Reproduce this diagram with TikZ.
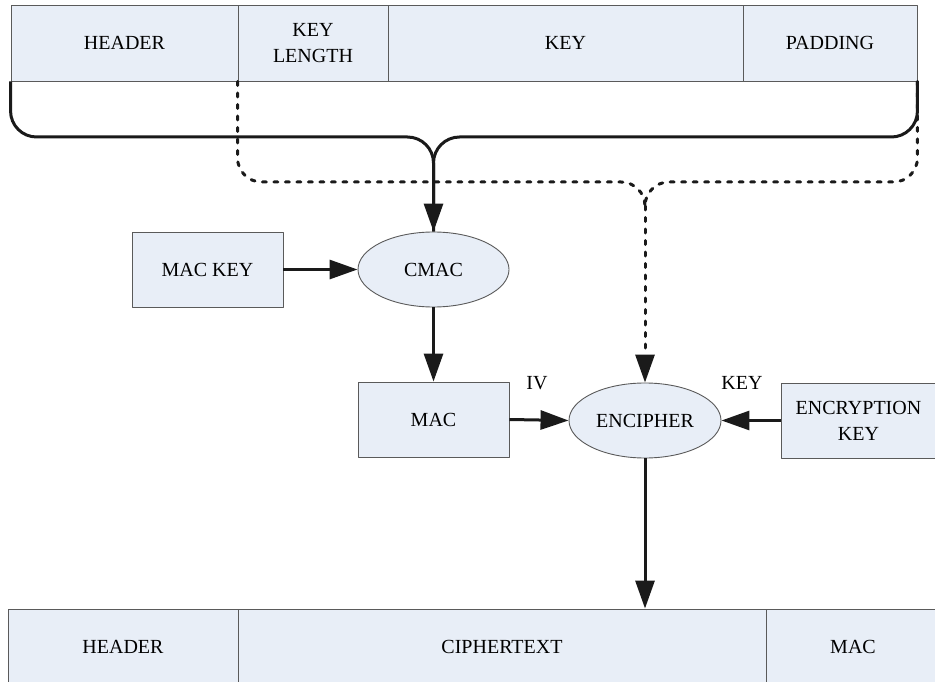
\documentclass[tikz,border=0pt]{standalone}
\usepackage{fontspec}
\setmainfont{Liberation Serif}
\usetikzlibrary{arrows.meta,shapes.geometric}
\definecolor{cellblue}{HTML}{E8EEF7}
\definecolor{cellline}{HTML}{5A5A5A}
\definecolor{inkblack}{HTML}{1A1A1A}
\begin{document}
\begin{tikzpicture}
      [x=1pt,y=-1pt,line join=round,
       font=\fontsize{20}{26}\selectfont,
       cell/.style={draw=cellline,fill=cellblue,line width=0.9pt,inner sep=0pt,align=center,minimum height=75pt},
       op/.style={ellipse,draw=cellline,fill=cellblue,line width=0.9pt,inner sep=0pt,minimum width=151pt,minimum height=75pt},
       flow/.style={draw=inkblack,line width=3pt,-{Triangle[length=28pt,width=19pt]}},
       bracket/.style={draw=inkblack,line width=3pt,rounded corners=26pt},
       dotbracket/.style={draw=inkblack,line width=3pt,line cap=round,dash pattern=on 4pt off 7.5pt,rounded corners=24pt}]

\useasboundingbox (0,0) rectangle (935,682);

%top record
  \node[cell,minimum width=227pt,minimum height=76pt] (hdr)  at (124.5,43) {HEADER};
  \node[cell,minimum width=150pt,minimum height=76pt] (klen) at (313,43) {KEY\\LENGTH};
  \node[cell,minimum width=355pt,minimum height=76pt] (key)  at (565.5,43) {KEY};
  \node[cell,minimum width=174pt,minimum height=76pt] (pad)  at (830,43) {PADDING};

%middle boxes and operations
  \node[cell,minimum width=151pt] (mackey) at (207.5,269.5) {MAC KEY};
  \node[op] (cmacop) at (433.5,269.5) {CMAC};
  \node[cell,minimum width=151pt] (mac) at (433.5,419.5) {MAC};
  \node[op,minimum width=152pt] (enc) at (645,420.5) {ENCIPHER};
  \node[cell,minimum width=155pt] (enckey) at (858.5,420.5) {ENCRYPTION\\KEY};
  \node (ivlabel)  at (537,383) {IV};
  \node (keylabel) at (742,383) {KEY};

%bottom record
  \node[cell,minimum width=230pt] (chdr)  at (123,646.5) {HEADER};
  \node[cell,minimum width=528pt] (ctext) at (502,646.5) {CIPHERTEXT};
  \node[cell,minimum width=174pt] (cmac)  at (853,646.5) {MAC};

%brackets gathering the fields
  \coordinate (solidjoin) at (433.5,137);
  \coordinate (dotjoin) at (645,182);
  \coordinate (dotstem) at (645,206);
  \draw[dotbracket] (pad.south east) |- (dotjoin) -- (dotstem);
  \draw[dotbracket] (klen.south west) |- (dotjoin) -- (dotstem);
  \draw[dotbracket,-{Triangle[length=28pt,width=19pt]}] (dotstem) -- (enc.north);
  \draw[bracket] (pad.south east) |- (solidjoin) -- (cmacop.north);
  \draw[bracket,-{Triangle[length=28pt,width=19pt]}] (hdr.south west) |- (solidjoin) -- (cmacop.north);

%data flow
  \draw[flow] (mackey.east) -- (cmacop.west);
  \draw[flow] (cmacop.south) -- (mac.north);
  \draw[flow] (mac.east) -- (enc.west);
  \draw[flow] (enckey.west) -- (enc.east);
  \draw[flow] (enc.south) -- (enc.south |- ctext.north);

\end{tikzpicture}
\end{document}
